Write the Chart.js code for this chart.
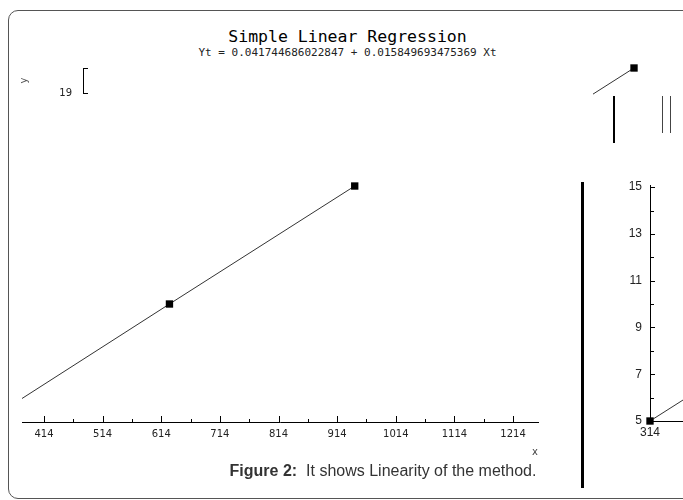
<!DOCTYPE html>
<html>
<head>
<meta charset="utf-8">
<script src="https://cdn.jsdelivr.net/npm/chart.js@4.4.1/dist/chart.umd.min.js"></script>
<style>
  html, body { margin:0; padding:0; background:#fff; }
  body { width:683px; height:500px; position:relative; overflow:hidden; }
  .frame { position:absolute; left:8px; top:10px; width:720px; height:487px; border:1px solid #555; border-radius:10px; }
  canvas { position:absolute; }
  .title { position:absolute; left:0; width:695px; text-align:center; font-family:"DejaVu Sans Mono", monospace; color:#000; white-space:pre; }
  .caption { position:absolute; left:0; width:766px; top:462px; text-align:center; font-family:"Liberation Sans", Arial, sans-serif; font-size:16px; color:#333; white-space:pre; }
  .bar { position:absolute; background:#000; }
</style>
</head>
<body>
<div class="frame"></div>
<div class="title" style="top:27px;font-size:16.5px;">Simple Linear Regression</div>
<div class="title" style="top:46px;font-size:11px;color:#222;">Yt = 0.041744686022847 + 0.015849693475369 Xt</div>

<canvas id="main" width="560" height="480" style="left:0;top:0;"></canvas>
<canvas id="right" width="93" height="290" style="left:590px;top:170px;"></canvas>
<canvas id="topRight" width="90" height="45" style="left:593px;top:55px;"></canvas>
<canvas id="topLeft" width="72" height="59" style="left:18px;top:51px;"></canvas>

<div class="bar" style="left:581px;top:182px;width:3px;height:306px;"></div>
<div class="bar" style="left:613px;top:96px;width:2px;height:47px;"></div>
<div class="bar" style="left:662px;top:96px;width:1px;height:37px;background:#444;"></div>
<div class="bar" style="left:670px;top:96px;width:1px;height:37px;background:#444;"></div>

<div class="caption"><b>Figure 2:</b>  It shows Linearity of the method.</div>

<script>
// ---- data ----
const xValues = [314, 628, 944, 1259];
const yValues = [5, 10, 15, 20];
const xTickLabels = [414, 514, 614, 714, 814, 914, 1014, 1114, 1214];
const rightYTickLabels = [5, 7, 9, 11, 13, 15];
const rightXTickLabels = [314];
const leftYTickLabels = [19];

const points = xValues.map((x, i) => ({x: x, y: yValues[i]}));

// ticks drawn inward from the axis line, placed by the scale
const innerTicks = {
  id: 'innerTicks',
  afterDraw(chart, args, opts) {
    const ctx = chart.ctx;
    (opts.axes || []).forEach(a => {
      const s = chart.scales[a.id];
      ctx.save();
      ctx.strokeStyle = '#000';
      ctx.lineWidth = 1;
      a.values.forEach(t => {
        const p = Math.round(s.getPixelForValue(t.v)) + 0.5;
        ctx.beginPath();
        if (s.isHorizontal()) {
          const y = Math.round(s.top);
          ctx.moveTo(p, y); ctx.lineTo(p, y - t.len);
        } else {
          const x = Math.round(s.right);
          ctx.moveTo(x, p); ctx.lineTo(x + t.len, p);
        }
        ctx.stroke();
      });
      ctx.restore();
    });
  }
};
Chart.register(innerTicks);

const plain = v => String(v);

const mainTickMarks = [];
xTickLabels.forEach((v, i) => {
  mainTickMarks.push({v: v, len: 6});
  if (i < xTickLabels.length - 1) mainTickMarks.push({v: (v + xTickLabels[i + 1]) / 2, len: 3});
});
const rightTickMarks = [];
for (let i = 0; i < rightYTickLabels.length; i++) {
  rightTickMarks.push({v: rightYTickLabels[i], len: 5});
  if (i < rightYTickLabels.length - 1) rightTickMarks.push({v: (rightYTickLabels[i] + rightYTickLabels[i + 1]) / 2, len: 4});
}

const lineStyle = {
  showLine: true,
  borderColor: '#333',
  borderWidth: 1,
  pointStyle: 'rect',
  pointRadius: 5.2,
  pointBackgroundColor: '#000',
  pointBorderColor: '#000',
  pointBorderWidth: 0,
  tension: 0
};
const common = {
  responsive: false,
  animation: false,
  devicePixelRatio: 1,
  plugins: { legend: {display: false}, tooltip: {enabled: false} }
};

// main chart
new Chart(document.getElementById('main'), {
  type: 'scatter',
  data: { datasets: [Object.assign({ data: points.slice(0, 3) }, lineStyle)] },
  options: Object.assign({}, common, {
    layout: { autoPadding: false, padding: {left: 22, right: 22, top: 60, bottom: 18} },
    plugins: Object.assign({}, common.plugins, {
      innerTicks: { axes: [{ id: 'x', values: mainTickMarks }] }
    }),
    scales: {
      x: {
        type: 'linear', position: 'bottom', min: 376.5, max: 1256.6,
        afterBuildTicks: s => { s.ticks = xTickLabels.map(v => ({value: v})); },
        afterFit: s => { s.height = 40; },
        grid: { display: true, drawOnChartArea: false, drawTicks: false },
        border: { display: true, color: '#000', width: 1 },
        ticks: { callback: plain, padding: 6, color: '#222', font: {family: 'DejaVu Sans', size: 10}, maxRotation: 0, autoSkip: false },
        title: { display: true, text: 'x', align: 'end', color: '#444', font: {family: 'DejaVu Sans', size: 10}, padding: {top: 0, bottom: 4} }
      },
      y: { type: 'linear', display: false, min: 5, max: 20.34 }
    }
  })
});

// right-hand axis panel
new Chart(document.getElementById('right'), {
  type: 'scatter',
  data: { datasets: [Object.assign({ data: points, clip: false }, lineStyle)] },
  options: Object.assign({}, common, {
    layout: { autoPadding: false, padding: {left: 0, right: 0, top: 3, bottom: 0} },
    plugins: Object.assign({}, common.plugins, {
      innerTicks: { axes: [{ id: 'y', values: rightTickMarks }] }
    }),
    scales: {
      x: {
        type: 'linear', position: 'bottom', min: 314, max: 370.3,
        afterBuildTicks: s => { s.ticks = rightXTickLabels.map(v => ({value: v})); },
        afterFit: s => { s.height = 39; },
        grid: { display: true, drawOnChartArea: false, drawTicks: false },
        border: { display: true, color: '#000', width: 1 },
        ticks: { callback: plain, padding: 4, color: '#222', font: {family: 'Liberation Sans', size: 12}, maxRotation: 0, autoSkip: false }
      },
      y: {
        type: 'linear', position: 'left', min: 5, max: 15.085,
        afterBuildTicks: s => { s.ticks = rightYTickLabels.map(v => ({value: v})); },
        afterFit: s => { s.width = 60; },
        grid: { display: true, drawOnChartArea: false, drawTicks: false },
        border: { display: true, color: '#000', width: 1 },
        ticks: { callback: plain, padding: 8, color: '#222', font: {family: 'Liberation Sans', size: 12}, autoSkip: false }
      }
    }
  })
});

// top-right fragment with the last point
new Chart(document.getElementById('topRight'), {
  type: 'scatter',
  data: { datasets: [Object.assign({ data: points.slice(2) }, lineStyle)] },
  options: Object.assign({}, common, {
    layout: { autoPadding: false, padding: 0 },
    scales: {
      x: { type: 'linear', display: false, min: 1189, max: 1342.6 },
      y: { type: 'linear', display: false, min: 18.638, max: 20.553 }
    }
  })
});

// top-left fragment of a y axis
new Chart(document.getElementById('topLeft'), {
  type: 'scatter',
  data: { datasets: [{ data: [] }] },
  options: Object.assign({}, common, {
    layout: { autoPadding: false, padding: {left: 0, right: 0, top: 3, bottom: 0} },
    plugins: Object.assign({}, common.plugins, {
      innerTicks: { axes: [{ id: 'y', values: [{v: 19, len: 5}, {v: 20, len: 5}] }] }
    }),
    scales: {
      x: { type: 'linear', display: false, min: 0, max: 1 },
      y: {
        type: 'linear', position: 'left', min: 19, max: 20,
        afterBuildTicks: s => { s.ticks = leftYTickLabels.map(v => ({value: v})); },
        afterFit: s => { s.width = 65; },
        grid: { display: true, drawOnChartArea: false, drawTicks: false },
        border: { display: true, color: '#000', width: 1 },
        ticks: { callback: plain, padding: 11, color: '#222', font: {family: 'DejaVu Sans', size: 10}, autoSkip: false },
        title: { display: true, text: 'y', color: '#555', font: {family: 'DejaVu Sans', size: 10}, padding: 0 }
      }
    }
  })
});
</script>
</body>
</html>
